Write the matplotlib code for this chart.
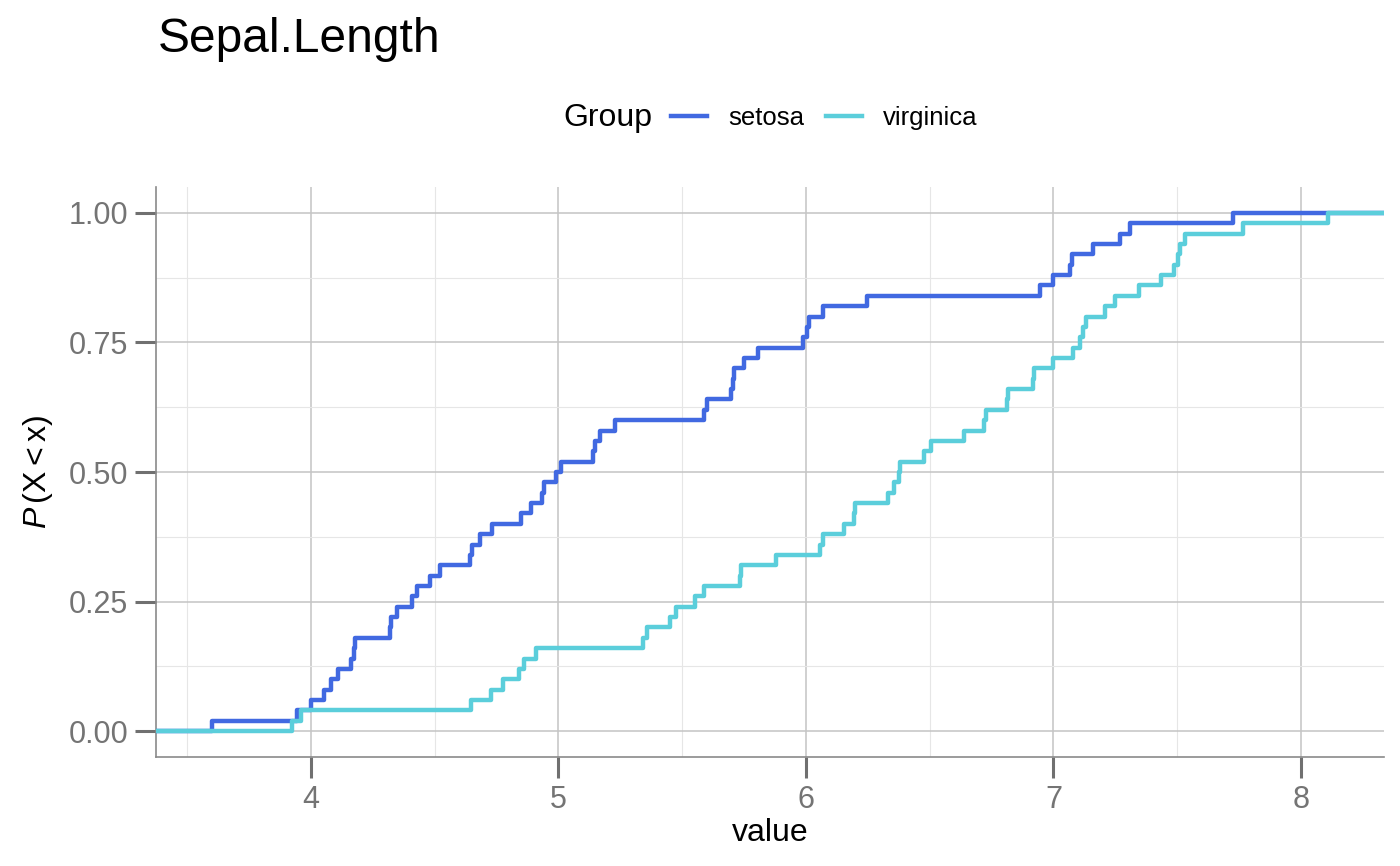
import numpy as np
import matplotlib
matplotlib.use("Agg")
import matplotlib.pyplot as plt
from matplotlib.ticker import MultipleLocator

plt.rcParams['font.family'] = ['Liberation Sans', 'DejaVu Sans']
plt.rcParams['mathtext.fontset'] = 'custom'
plt.rcParams['mathtext.rm'] = 'Liberation Sans'
plt.rcParams['mathtext.it'] = 'Liberation Sans:italic'

setosa = [3.60, 3.946, 4.00, 4.054, 4.081, 4.108, 4.161, 4.175, 4.18, 4.32,
          4.325, 4.35, 4.41, 4.43, 4.48, 4.52, 4.645, 4.65, 4.685, 4.73,
          4.85, 4.89, 4.935, 4.94, 4.99, 5.01, 5.14, 5.15, 5.17, 5.23,
          5.589, 5.60, 5.696, 5.705, 5.71, 5.75, 5.805, 5.99, 6.005, 6.013,
          6.07, 6.245, 6.944, 6.997, 7.068, 7.074, 7.159, 7.27, 7.31, 7.724]
virginica = [3.925, 3.96, 4.648, 4.726, 4.776, 4.843, 4.86, 4.911, 5.34, 5.36,
             5.452, 5.475, 5.551, 5.589, 5.732, 5.738, 5.879, 6.058, 6.071, 6.155,
             6.195, 6.20, 6.33, 6.357, 6.377, 6.381, 6.476, 6.507, 6.64, 6.72,
             6.728, 6.812, 6.815, 6.916, 6.922, 6.997, 7.078, 7.108, 7.119, 7.132,
             7.21, 7.25, 7.347, 7.435, 7.489, 7.505, 7.51, 7.532, 7.767, 8.11]
groups = ["setosa", "virginica"]
colors = ["#4169E1", "#5BCEDB"]

all_vals = np.array(setosa + virginica)
span = all_vals.max() - all_vals.min()
x_lo = all_vals.min() - 0.05 * span
x_hi = all_vals.max() + 0.05 * span

fig = plt.figure(figsize=(14, 8.66), dpi=100)
ax = fig.add_axes([156 / 1400, 1 - 757 / 866, (1384 - 156) / 1400, (757 - 187) / 866])

for name, vals, col in zip(groups, [setosa, virginica], colors):
    v = np.sort(np.array(vals))
    n = len(v)
    xs = np.concatenate([[x_lo - 1], v, [x_hi + 1]])
    ys = np.concatenate([[0], np.arange(1, n + 1) / n, [1]])
    ax.step(xs, ys, where='post', color=col, lw=3.2, label=name, zorder=3)

ax.set_xlim(x_lo, x_hi)
ax.set_ylim(-0.05, 1.05)
ax.xaxis.set_major_locator(MultipleLocator(1))
ax.xaxis.set_minor_locator(MultipleLocator(0.5))
ax.yaxis.set_major_locator(MultipleLocator(0.25))
ax.yaxis.set_minor_locator(MultipleLocator(0.125))
ax.set_yticklabels([f"{t:.2f}" for t in ax.get_yticks()])

ax.grid(which='major', color='#c4c4c4', lw=1.1)
ax.grid(which='minor', color='#e6e6e6', lw=0.8)
ax.set_axisbelow(True)

for s in ['top', 'right']:
    ax.spines[s].set_visible(False)
for s in ['left', 'bottom']:
    ax.spines[s].set_color('#8a8a8a')
    ax.spines[s].set_linewidth(1.2)

ax.tick_params(which='major', length=15, width=2.2, color='#707070',
               labelcolor='#747474', labelsize=22, pad=5)
ax.tick_params(which='minor', length=0)

ax.set_xlabel("value", fontsize=23, labelpad=2)
ax.set_ylabel(r'$\mathit{P}\,(\mathrm{X} < \mathrm{x})$', fontsize=23, labelpad=10)

fig.text(158 / 1400, 1 - 52 / 866, "Sepal.Length", fontsize=34.5, ha='left', va='baseline')

fig.text(563 / 1400, 1 - 118 / 866, "Group", fontsize=23, ha='left', va='center')
fig.legend(loc='center left', bbox_to_anchor=(671 / 1400, 1 - 118 / 866), ncol=2,
           frameon=False, fontsize=18.5, handlelength=1.4, handletextpad=0.82,
           columnspacing=0.86, borderpad=0, borderaxespad=0)

fig.savefig("out.png", dpi=100)
